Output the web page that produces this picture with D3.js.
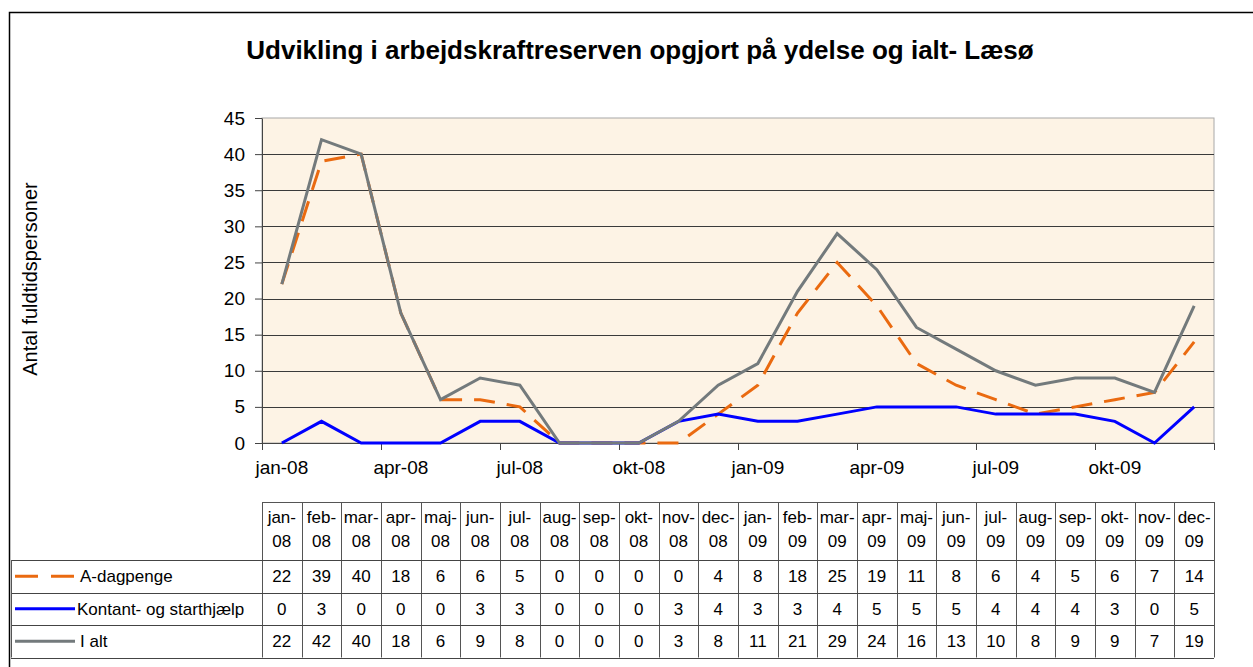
<!DOCTYPE html>
<html>
<head>
<meta charset="utf-8">
<script src="https://cdn.jsdelivr.net/npm/d3@7"></script>
<style>
body { margin: 0; background: #fff; }
svg { font-family: "Liberation Sans", Arial, sans-serif; display: block; }
</style>
</head>
<body>
<svg id="canvas"></svg>
<script>
var width = 1253,
	height = 667;

var months = ["jan-08","feb-08","mar-08","apr-08","maj-08","jun-08","jul-08","aug-08","sep-08","okt-08","nov-08","dec-08",
	"jan-09","feb-09","mar-09","apr-09","maj-09","jun-09","jul-09","aug-09","sep-09","okt-09","nov-09","dec-09"];
var aDagpenge = [22,39,40,18,6,6,5,0,0,0,0,4,8,18,25,19,11,8,6,4,5,6,7,14];
var kontant   = [0,3,0,0,0,3,3,0,0,0,3,4,3,3,4,5,5,5,4,4,4,3,0,5];
var iAlt      = [22,42,40,18,6,9,8,0,0,0,3,8,11,21,29,24,16,13,10,8,9,9,7,19];
var seriesNames = ["A-dagpenge", "Kontant- og starthjælp", "I alt"];
var yTicks = [0,5,10,15,20,25,30,35,40,45];
var axisLabels = ["jan-08","apr-08","jul-08","okt-08","jan-09","apr-09","jul-09","okt-09"];
var quarterEdges = [0,3,6,9,12,15,18,21,24];

var series = [
	{name: seriesNames[0], values: aDagpenge, color: "#ea6a10", dash: "21,12"},
	{name: seriesNames[1], values: kontant, color: "#0000ff", dash: null},
	{name: seriesNames[2], values: iAlt, color: "#737a7c", dash: null}
];

var svg = d3.select("#canvas")
	.attr("width", width)
	.attr("height", height);

var plot = {left: 262, right: 1214, top: 118, bottom: 443};

// outer chart border (right/bottom are off the picture)
svg.append("path")
	.attr("d", "M9.5," + height + "V12.5H" + width)
	.attr("fill", "none")
	.attr("stroke", "#000")
	.attr("stroke-width", 1.5);

svg.append("text")
	.attr("x", 640)
	.attr("y", 59)
	.attr("text-anchor", "middle")
	.attr("font-size", 26)
	.attr("font-weight", "bold")
	.text("Udvikling i arbejdskraftreserven opgjort på ydelse og ialt- Læsø");

var x = d3.scaleBand()
	.domain(months)
	.range([plot.left, plot.right])
	.padding(0);

var xEdge = d3.scaleLinear()
	.domain([0, months.length])
	.range([plot.left, plot.right]);

var y = d3.scaleLinear()
	.domain([0, 45])
	.range([plot.bottom, plot.top]);

svg.append("rect")
	.attr("x", plot.left)
	.attr("y", plot.top)
	.attr("width", plot.right - plot.left)
	.attr("height", plot.bottom - plot.top)
	.attr("fill", "#fdf3e5")
	.attr("stroke", "#a8a8a8")
	.attr("stroke-width", 1);

// gridlines
svg.append("g")
	.selectAll("line")
	.data(yTicks.filter(function(d){ return d > 0 && d < 45; }))
	.enter()
	.append("line")
	.attr("x1", plot.left)
	.attr("x2", plot.right)
	.attr("y1", function(d){ return Math.round(y(d)) + 0.5; })
	.attr("y2", function(d){ return Math.round(y(d)) + 0.5; })
	.attr("stroke", "#3a3a3a")
	.attr("stroke-width", 1);

// y axis
var yAxis = svg.append("g")
	.attr("transform", "translate(" + plot.left + ",0)")
	.call(d3.axisLeft(y).tickValues(yTicks).tickSize(7).tickPadding(10).tickSizeOuter(0));
yAxis.selectAll("text").attr("font-size", 19).attr("fill", "#000").attr("font-family", null);
yAxis.selectAll("line, path").attr("stroke", "#444");

// x axis: tick marks on quarter edges, labels centered on the month
var xTicks = svg.append("g")
	.attr("transform", "translate(0," + plot.bottom + ")")
	.call(d3.axisBottom(xEdge).tickValues(quarterEdges).tickFormat("").tickSize(7).tickSizeOuter(0));
xTicks.selectAll("line, path").attr("stroke", "#444");

var xLabels = svg.append("g")
	.attr("transform", "translate(0," + plot.bottom + ")")
	.call(d3.axisBottom(x).tickValues(axisLabels).tickSize(0).tickPadding(18));
xLabels.select(".domain").remove();
xLabels.selectAll("text").attr("font-size", 19).attr("fill", "#000").attr("font-family", null);

// y axis title
svg.append("text")
	.attr("transform", "translate(37,279) rotate(-90)")
	.attr("text-anchor", "middle")
	.attr("font-size", 20)
	.text("Antal fuldtidspersoner");

// lines
var line = d3.line()
	.x(function(d, i){ return x(months[i]) + x.bandwidth() / 2; })
	.y(function(d){ return y(d); });

svg.append("g")
	.selectAll("path")
	.data(series)
	.enter()
	.append("path")
	.attr("d", function(d){ return line(d.values); })
	.attr("fill", "none")
	.attr("stroke", function(d){ return d.color; })
	.attr("stroke-width", 3)
	.attr("stroke-dasharray", function(d){ return d.dash; })
	.attr("stroke-linejoin", "miter");

// data table
var table = {top: 502, head: 560, rowH: 32.5, left: 11};
var rowTops = series.map(function(d, i){ return table.head + i * table.rowH; });
var tableBottom = table.head + series.length * table.rowH;
var tg = svg.append("g");

tg.selectAll("line.v")
	.data(d3.range(months.length + 1))
	.enter()
	.append("line")
	.attr("x1", function(d){ return Math.round(xEdge(d)) + 0.5; })
	.attr("x2", function(d){ return Math.round(xEdge(d)) + 0.5; })
	.attr("y1", table.top)
	.attr("y2", tableBottom)
	.attr("stroke", "#555");

tg.append("line")
	.attr("x1", plot.left).attr("x2", plot.right)
	.attr("y1", table.top + 0.5).attr("y2", table.top + 0.5)
	.attr("stroke", "#555");

tg.selectAll("line.h")
	.data(rowTops.concat([tableBottom]))
	.enter()
	.append("line")
	.attr("x1", table.left)
	.attr("x2", plot.right)
	.attr("y1", function(d){ return Math.round(d) + 0.5; })
	.attr("y2", function(d){ return Math.round(d) + 0.5; })
	.attr("stroke", "#444");

tg.append("line")
	.attr("x1", table.left + 0.5).attr("x2", table.left + 0.5)
	.attr("y1", table.head).attr("y2", tableBottom)
	.attr("stroke", "#555");

// header: month split in two lines
var head = tg.selectAll("text.head")
	.data(months)
	.enter()
	.append("text")
	.attr("text-anchor", "middle")
	.attr("font-size", 17);
head.append("tspan")
	.attr("x", function(d){ return x(d) + x.bandwidth() / 2; })
	.attr("y", 523)
	.text(function(d){ return d.split("-")[0] + "-"; });
head.append("tspan")
	.attr("x", function(d){ return x(d) + x.bandwidth() / 2; })
	.attr("y", 547)
	.text(function(d){ return d.split("-")[1]; });

// rows
series.forEach(function(s, r){
	var cy = rowTops[r] + table.rowH / 2;
	tg.selectAll("text.r" + r)
		.data(s.values)
		.enter()
		.append("text")
		.attr("x", function(d, i){ return x(months[i]) + x.bandwidth() / 2; })
		.attr("y", cy + 6)
		.attr("text-anchor", "middle")
		.attr("font-size", 17)
		.text(function(d){ return d; });

	tg.append("line")
		.attr("x1", 15).attr("x2", 75)
		.attr("y1", cy).attr("y2", cy)
		.attr("stroke", s.color)
		.attr("stroke-width", 3)
		.attr("stroke-dasharray", s.dash ? "23,13" : null);

	tg.append("text")
		.attr("x", r == 1 ? 77 : 80)
		.attr("y", cy + 6)
		.attr("font-size", 17)
		.text(s.name);
});
</script>
</body>
</html>
